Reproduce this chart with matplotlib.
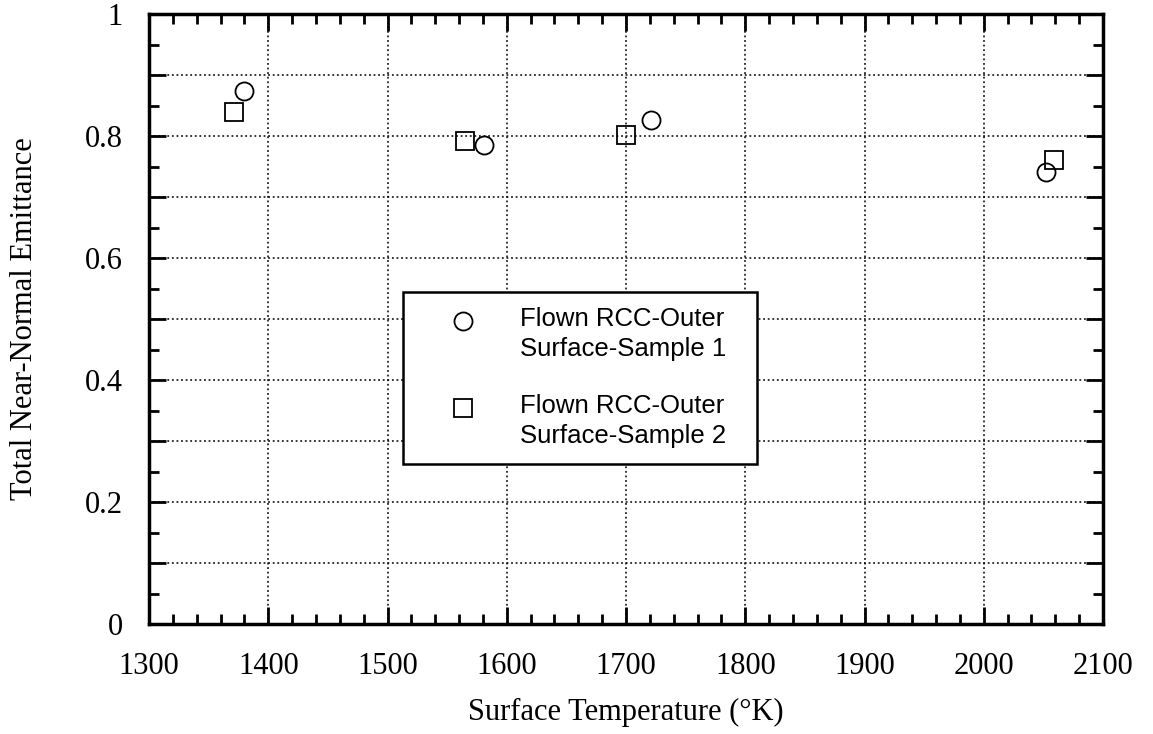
import numpy as np
import matplotlib
matplotlib.use("Agg")
import matplotlib.pyplot as plt
from matplotlib.ticker import MultipleLocator

# sample 1 (circles) and sample 2 (squares)
temp_s1 = [1380, 1581, 1721, 2052]
emit_s1 = [0.873, 0.786, 0.826, 0.741]
temp_s2 = [1371, 1565, 1700, 2059]
emit_s2 = [0.839, 0.792, 0.802, 0.761]

labels = ['Flown RCC-Outer\nSurface-Sample 1', 'Flown RCC-Outer\nSurface-Sample 2']
x_ticks = [1300, 1400, 1500, 1600, 1700, 1800, 1900, 2000, 2100]
y_ticks = [0, 0.1, 0.2, 0.3, 0.4, 0.5, 0.6, 0.7, 0.8, 0.9, 1.0]

serif = ['Liberation Serif', 'DejaVu Serif']
sans = ['Liberation Sans', 'DejaVu Sans']

fig = plt.figure(figsize=(11.53, 7.34), dpi=100)
ax = fig.add_axes([149 / 1153, 1 - 624 / 734, 954 / 1153, 610 / 734])

ax.plot(temp_s1, emit_s1, linestyle='none', marker='o', markersize=13,
        markerfacecolor='none', markeredgecolor='black', markeredgewidth=1.3,
        label=labels[0])
ax.plot(temp_s2, emit_s2, linestyle='none', marker='s', markersize=12.5,
        markerfacecolor='none', markeredgecolor='black', markeredgewidth=1.3,
        label=labels[1])

ax.set_xlim(1300, 2100)
ax.set_ylim(0, 1)
ax.set_xticks(x_ticks)
ax.set_xticklabels([str(t) for t in x_ticks])
ax.set_yticks(y_ticks)
ax.set_yticklabels(['0' if t == 0 else '1' if t == 1 else ('%.1f' % t if round(t * 10) % 2 == 0 else '')
                    for t in y_ticks])
ax.xaxis.set_minor_locator(MultipleLocator(20))
ax.yaxis.set_minor_locator(MultipleLocator(0.05))

ax.tick_params(which='both', direction='in', top=True, right=True, width=2, color='black')
ax.tick_params(which='major', length=12.5)
ax.tick_params(which='minor', length=7)
ax.tick_params(axis='x', which='major', pad=20)
ax.tick_params(axis='y', which='major', pad=19)
for lab in ax.get_xticklabels() + ax.get_yticklabels():
    lab.set_fontfamily(serif)
    lab.set_fontsize(22)

for sp in ax.spines.values():
    sp.set_linewidth(2.5)

ax.grid(True, which='major', linestyle=(0, (1.2, 1.8)), color='black', linewidth=1.1)

ax.set_xlabel('Surface Temperature (°K)', fontfamily=serif, fontsize=22)
ax.set_ylabel('Total Near-Normal Emittance', fontfamily=serif, fontsize=22)
ax.xaxis.set_label_coords(0.5, -0.121)
ax.yaxis.set_label_coords(-0.115, 0.5)

leg = ax.legend(loc='upper left', bbox_to_anchor=(0.266, 0.445, 0.371, 0.1), mode='expand',
                fancybox=False, framealpha=1, edgecolor='black',
                prop={'family': sans, 'size': 18.5},
                handletextpad=0.47, borderpad=0.6, labelspacing=1.27, handlelength=3.5,
                borderaxespad=0)
leg.get_frame().set_linewidth(1.8)
for t in leg.get_texts():
    t.set_linespacing(1.33)
# put each legend marker beside the first line of its label
for h in leg.legend_handles:
    h.set_ydata(np.asarray(h.get_ydata()) + 10)

plt.savefig('out.png', dpi=100)
